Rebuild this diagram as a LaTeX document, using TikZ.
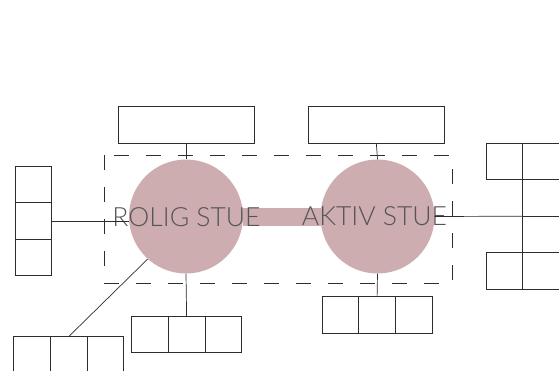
\documentclass[tikz,border=0pt]{standalone}
\usepackage{fontspec}
\newfontfamily\roomfont{Lato Light}
\usetikzlibrary{positioning}
\definecolor{roomcolor}{RGB}{205,173,175}
\definecolor{linecolor}{RGB}{45,45,45}
\definecolor{textcolor}{RGB}{85,85,85}

\begin{document}
\begin{tikzpicture}[%
    x=1pt, y=-1pt,              % Work in picture pixels, top-down
    node distance=0pt,          % Cells sit edge to edge
    ]
\tikzset{
  base/.style={draw=linecolor, line width=0.7pt, inner sep=0pt, outer sep=0pt},
  wide/.style={base, rectangle, minimum width=136pt, minimum height=37pt},
  cell/.style={base, rectangle, minimum size=36.6pt},
  room/.style={circle, fill=roomcolor, minimum size=114pt, inner sep=0pt},
  roomtext/.style={font=\roomfont\fontsize{26.5}{26.5}\selectfont, text=textcolor},
  link/.style={draw=linecolor, line width=0.7pt},
  zone/.style={draw=linecolor, line width=0.7pt, dash pattern=on 15pt off 17pt},
}
\useasboundingbox (0,0) rectangle (559,371);

% rooms
\fill [roomcolor] (243,208) rectangle (321,226);
\node [room] (rolig) at (186,216.5) {};
\node [room] (aktiv) at (377.5,216.5) {};
\node [roomtext] (roligtxt) at (186.5,217) {ROLIG STUE};
\node [roomtext] (aktivtxt) at (374.5,216) {AKTIV STUE};
\draw [zone] (104,155.3) rectangle (452.3,283.3);

% top boxes
\node [wide] (topL) at (186,124.5) {};
\node [wide] (topR) at (376.3,124.5) {};

% left stack
\node [cell] (ls1) at (33.5,184.3) {};
\node [cell,below=of ls1] (ls2) {};
\node [cell,below=of ls2] (ls3) {};

% bottom left row
\node [cell] (bl1) at (32,355) {};
\node [cell,right=of bl1] (bl2) {};
\node [cell,right=of bl2] (bl3) {};

% bottom middle row
\node [cell] (bm1) at (150,334.2) {};
\node [cell,right=of bm1] (bm2) {};
\node [cell,right=of bm2] (bm3) {};

% bottom right row
\node [cell] (br1) at (340.5,314.7) {};
\node [cell,right=of br1] (br2) {};
\node [cell,right=of br2] (br3) {};

% right grid
\node [cell] (rg1) at (541,161.3) {};
\node [cell,below=of rg1] (rg2) {};
\node [cell,below=of rg2] (rg3) {};
\node [cell,below=of rg3] (rg4) {};
\node [cell,left=of rg1] (rl1) {};
\node [cell,left=of rg4] (rl4) {};

\draw [link] (topL.south) -- (rolig.north);
\draw [link] (topR.south) -- (aktiv.north);
\draw [link] (ls2.east) -- (rolig.west |- ls2.east);
\draw [link] (bl2.north) -- (rolig.228);
\draw [link] (bm2.north) -- (rolig.south);
\draw [link] (br2.north) -- (aktiv.south);
\draw [link] (aktiv.east) -- (rg2.south west);

\end{tikzpicture}
\end{document}
